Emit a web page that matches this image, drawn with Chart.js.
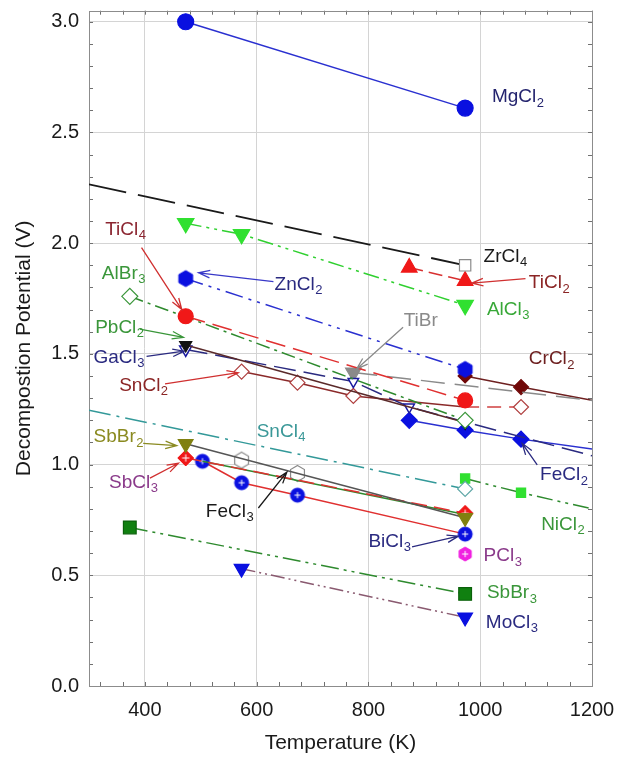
<!DOCTYPE html>
<html><head><meta charset="utf-8">
<script src="https://cdn.jsdelivr.net/npm/chart.js@4/dist/chart.umd.min.js"></script>
<style>html,body{margin:0;padding:0;background:#fff}#wrap{width:626px;height:760px;position:relative}</style>
</head><body><div id="wrap"><canvas id="c"></canvas></div>
<script>
// ---------- data ----------
const xTickValues = [400, 600, 800, 1000, 1200];
const yTickValues = [0, 0.5, 1.0, 1.5, 2.0, 2.5, 3.0];

const tMgCl2 = [473, 973];               const vMgCl2 = [3.00, 2.61];
const tZrCl4 = [300, 973];               const vZrCl4 = [2.266, 1.90];
const tTiCl2 = [873, 973];               const vTiCl2 = [1.89, 1.83];
const tAlCl3 = [473, 573, 973];          const vAlCl3 = [2.09, 2.04, 1.72];
const tZnCl2 = [473, 973];               const vZnCl2 = [1.84, 1.43];
const tTiCl4 = [473, 973];               const vTiCl4 = [1.67, 1.29];
const tAlBr3 = [373, 973];               const vAlBr3 = [1.76, 1.20];
const tPbCl2 = [473, 973];               const vPbCl2 = [1.54, 1.19];
const tGaCl3 = [473, 773, 873, 1200];    const vGaCl3 = [1.52, 1.375, 1.26, 1.04];
const tSnCl2 = [573, 673, 773, 973, 1073]; const vSnCl2 = [1.42, 1.37, 1.31, 1.26, 1.26];
const tTiBr  = [773, 1200];              const vTiBr  = [1.416, 1.29];
const tCrCl2 = [973, 1073, 1200];        const vCrCl2 = [1.40, 1.35, 1.29];
const tFeCl2 = [873, 973, 1073, 1200];   const vFeCl2 = [1.20, 1.155, 1.115, 1.07];
const tSnCl4 = [300, 973];               const vSnCl4 = [1.245, 0.89];
const tNiCl2 = [973, 1073, 1200];        const vNiCl2 = [0.937, 0.873, 0.80];
const tSbBr2 = [473, 973];               const vSbBr2 = [1.094, 0.76];
const tSbCl3 = [473, 973];               const vSbCl3 = [1.03, 0.78];
const tExtra = [503, 973];               const vExtra = [1.015, 0.775];
const tFeCl3 = [573, 673];               const vFeCl3 = [1.02, 0.96];
const tBiCl3 = [503, 573, 673, 973];     const vBiCl3 = [1.015, 0.918, 0.862, 0.686];
const tPCl3  = [973];                    const vPCl3  = [0.596];
const tSbBr3 = [373, 973];               const vSbBr3 = [0.716, 0.416];
const tMoCl3 = [573, 973];               const vMoCl3 = [0.53, 0.31];

// annotation labels (text with _ marking subscript), anchors in data units, colours
const labelTexts  = ['MgCl_2','ZrCl_4','TiCl_2','AlCl_3','CrCl_2','TiBr','TiCl_4','AlBr_3','ZnCl_2','PbCl_2','GaCl_3','SnCl_2','SnCl_4','SbBr_2','SbCl_3','FeCl_3','FeCl_2','NiCl_2','BiCl_3','PCl_3','SbBr_3','MoCl_3'];
const labelT      = [1021, 1006, 1087, 1012, 1087, 863, 329, 323, 632, 311, 308, 354, 600, 308, 336, 509, 1107, 1109, 800, 1006, 1012, 1010];
const labelV      = [2.66, 1.94, 1.82, 1.70, 1.476, 1.65, 2.06, 1.862, 1.813, 1.618, 1.484, 1.357, 1.15, 1.124, 0.918, 0.788, 0.952, 0.728, 0.653, 0.586, 0.42, 0.286];
const labelColors = ['#24246e','#1a1a1a','#8b2525','#38a838','#6e2020','#8a8a8a','#8b2530','#3a963a','#2a2a80','#3a963a','#2a2a80','#8b2525','#3a9898','#8a8a20','#8a3a8a','#1a1a1a','#2a2a80','#3a963a','#2a2a80','#8a3a8a','#3a963a','#2a2a80'];

// arrows: from (T,V) to (T,V)
const arrowFromT = [1081, 394, 630, 391, 403, 436, 862, 1102, 397, 409, 603, 878];
const arrowFromV = [1.84, 1.98, 1.826, 1.612, 1.489, 1.365, 1.62, 0.999, 1.096, 0.939, 0.804, 0.628];
const arrowToT   = [985, 466, 496, 469, 470, 567, 779, 1075, 457, 460, 654, 961];
const arrowToV   = [1.82, 1.70, 1.866, 1.575, 1.512, 1.415, 1.432, 1.096, 1.086, 1.006, 0.966, 0.677];
const arrowColors = ['#d03030','#d03030','#3838c8','#3a963a','#2a2a80','#d03030','#8a8a8a','#2a2a80','#8a8a20','#d03030','#1a1a1a','#2a2a80'];

// ---------- helpers ----------
function makeMarker(shape, r, fill, stroke, lw, plus) {
  const s = Math.ceil(2 * r + 2 * lw + 2);
  const c = document.createElement('canvas'); c.width = s; c.height = s;
  const g = c.getContext('2d'); const cx = s / 2, cy = s / 2;
  g.beginPath();
  if (shape === 'hex') {
    for (let i = 0; i < 6; i++) { const a = -Math.PI / 2 + i * Math.PI / 3; const px = cx + r * Math.cos(a), py = cy + r * Math.sin(a); i ? g.lineTo(px, py) : g.moveTo(px, py); }
  } else if (shape === 'circle') {
    g.arc(cx, cy, r, 0, 2 * Math.PI);
  } else if (shape === 'diamond') {
    g.moveTo(cx, cy - r); g.lineTo(cx + r, cy); g.lineTo(cx, cy + r); g.lineTo(cx - r, cy);
  }
  g.closePath();
  if (fill) { g.fillStyle = fill; g.fill(); }
  if (stroke) { g.strokeStyle = stroke; g.lineWidth = lw; g.stroke(); }
  if (plus) {
    g.strokeStyle = plus; g.lineWidth = 1; g.beginPath();
    g.moveTo(cx - r * 0.45, cy); g.lineTo(cx + r * 0.45, cy);
    g.moveTo(cx, cy - r * 0.45); g.lineTo(cx, cy + r * 0.45); g.stroke();
  }
  return c;
}
function ser(label, ts, vs, o) {
  return Object.assign({ label, data: ts.map((t, i) => ({ x: t, y: vs[i] })), showLine: true, fill: false,
    tension: 0, borderWidth: 1.5, pointBorderWidth: 1.2 }, o);
}
const BLUE = '#0a10e0', RED = '#f01818', LGREEN = '#30e030';

const hexBlue = makeMarker('hex', 8, BLUE, BLUE, 1);
const hexMag = makeMarker('hex', 7, '#f020e0', '#f020e0', 1, '#ffffff');
const hexOpen = makeMarker('hex', 8, '#ffffff', '#8a8a8a', 1.2);
const circPlus = makeMarker('circle', 7, BLUE, BLUE, 1, '#ffffff');
const diaPlus = makeMarker('diamond', 8, RED, RED, 1, '#ffffff');

const datasets = [
  ser('MgCl2', tMgCl2, vMgCl2, { borderColor: '#2a30d0', pointStyle: 'circle', pointRadius: 8, pointBackgroundColor: BLUE, pointBorderColor: BLUE }),
  ser('ZrCl4', tZrCl4, vZrCl4, { borderColor: '#1a1a1a', borderWidth: 1.8, borderDash: [38, 12], pointStyle: 'rect', pointRadius: [0, 8], pointBackgroundColor: '#ffffff', pointBorderColor: '#8a8a8a' }),
  ser('TiCl2', tTiCl2, vTiCl2, { borderColor: '#d83030', borderDash: [14, 6], pointStyle: 'triangle', pointRadius: 9, pointBackgroundColor: RED, pointBorderColor: RED }),
  ser('AlCl3', tAlCl3, vAlCl3, { borderColor: '#30d030', borderDash: [16, 5, 3, 5, 3, 5], pointStyle: 'triangle', rotation: 180, pointRadius: 9.5, pointBackgroundColor: LGREEN, pointBorderColor: LGREEN }),
  ser('ZnCl2', tZnCl2, vZnCl2, { borderColor: '#2a30d0', borderDash: [18, 6, 3, 6, 3, 6], pointStyle: hexBlue, pointRadius: 7 }),
  ser('TiCl4', tTiCl4, vTiCl4, { borderColor: '#e03030', borderDash: [20, 8], pointStyle: 'circle', pointRadius: 7.5, pointBackgroundColor: RED, pointBorderColor: RED }),
  ser('AlBr3', tAlBr3, vAlBr3, { borderColor: '#2e8a2e', borderDash: [14, 5, 3, 5], pointStyle: 'rectRot', pointRadius: 8, pointBackgroundColor: '#ffffff', pointBorderColor: '#3a963a' }),
  ser('PbCl2', tPbCl2, vPbCl2, { borderColor: '#5a2a2a', pointStyle: 'triangle', rotation: 180, pointRadius: 7, pointBackgroundColor: '#111111', pointBorderColor: '#111111' }),
  ser('GaCl3', tGaCl3, vGaCl3, { borderColor: '#2a2a80', borderDash: [22, 8], pointStyle: 'triangle', rotation: 180, pointRadius: [7, 6, 6, 0], pointBackgroundColor: '#ffffff', pointBorderColor: '#1a1aa0', pointBorderWidth: 1.5 }),
  ser('SnCl2', tSnCl2, vSnCl2, { borderColor: '#8b2a2a', pointStyle: 'rectRot', pointRadius: [7.5, 7.5, 7.5, 0, 7.5], pointBackgroundColor: '#ffffff', pointBorderColor: '#b04040',
    segment: { borderDash: ctx => ctx.p0.parsed.x >= 970 ? [14, 8] : undefined, borderColor: ctx => ctx.p0.parsed.x >= 970 ? '#d04040' : undefined } }),
  ser('TiBr', tTiBr, vTiBr, { borderColor: '#8a8a8a', borderDash: [24, 10], pointStyle: 'triangle', rotation: 180, pointRadius: [9, 0], pointBackgroundColor: '#8a8a8a', pointBorderColor: '#8a8a8a' }),
  ser('CrCl2', tCrCl2, vCrCl2, { borderColor: '#6e2020', pointStyle: 'rectRot', pointRadius: [7, 7.5, 0], pointBackgroundColor: '#700808', pointBorderColor: '#700808' }),
  ser('FeCl2', tFeCl2, vFeCl2, { borderColor: '#2a30d0', pointStyle: 'rectRot', pointRadius: [8, 8, 8, 0], pointBackgroundColor: BLUE, pointBorderColor: BLUE }),
  ser('SnCl4', tSnCl4, vSnCl4, { borderColor: '#339999', borderDash: [22, 6, 3, 6], pointStyle: 'rectRot', pointRadius: [0, 7.5], pointBackgroundColor: '#ffffff', pointBorderColor: '#60a8a8' }),
  ser('NiCl2', tNiCl2, vNiCl2, { borderColor: '#2e8a2e', borderDash: [16, 5, 3, 5, 3, 5], pointStyle: 'rect', pointRadius: [6.5, 6.5, 0], pointBackgroundColor: LGREEN, pointBorderColor: LGREEN }),
  ser('SbBr2', tSbBr2, vSbBr2, { borderColor: '#555555', pointStyle: 'triangle', rotation: 180, pointRadius: 8.5, pointBackgroundColor: '#808010', pointBorderColor: '#808010' }),
  ser('SbCl3', tSbCl3, vSbCl3, { borderColor: '#e03030', borderDash: [16, 7], pointStyle: diaPlus, pointRadius: 7 }),
  ser('', tExtra, vExtra, { borderColor: '#2e8a2e', pointRadius: 0 }),
  ser('FeCl3', tFeCl3, vFeCl3, { showLine: false, pointStyle: hexOpen, pointRadius: 8 }),
  ser('BiCl3', tBiCl3, vBiCl3, { borderColor: '#e03030', pointStyle: circPlus, pointRadius: 7 }),
  ser('PCl3', tPCl3, vPCl3, { showLine: false, pointStyle: hexMag, pointRadius: 7 }),
  ser('SbBr3', tSbBr3, vSbBr3, { borderColor: '#2e8a2e', borderDash: [18, 5, 3, 5, 3, 5], pointStyle: 'rect', pointRadius: 9, pointBackgroundColor: '#108010', pointBorderColor: '#0a600a' }),
  ser('MoCl3', tMoCl3, vMoCl3, { borderColor: '#8a5a70', borderDash: [14, 4, 2, 4, 2, 4], pointStyle: 'triangle', rotation: 180, pointRadius: 8.5, pointBackgroundColor: BLUE, pointBorderColor: BLUE })
];

const FONT = '"Liberation Sans", Arial, Helvetica, sans-serif';

const framePlugin = {
  id: 'frame',
  beforeDatasetsDraw(chart) {
    const { ctx, chartArea: a, scales: { x, y } } = chart;
    ctx.save();
    ctx.strokeStyle = '#707070'; ctx.lineWidth = 1;
    ctx.beginPath();
    for (let t = 320; t <= 1200; t += 40) {
      const px = Math.round(x.getPixelForValue(t)) + 0.5;
      ctx.moveTo(px, a.bottom); ctx.lineTo(px, a.bottom - 4);
      ctx.moveTo(px, a.top); ctx.lineTo(px, a.top + 4);
    }
    for (let k = 1; k <= 30; k++) {
      const py = Math.round(y.getPixelForValue(k / 10)) + 0.5;
      ctx.moveTo(a.left, py); ctx.lineTo(a.left + 4, py);
      ctx.moveTo(a.right, py); ctx.lineTo(a.right - 4, py);
    }
    ctx.stroke();
    ctx.strokeStyle = '#8c8c8c';
    ctx.strokeRect(Math.round(a.left) + 0.5, Math.round(a.top) + 0.5, Math.round(a.right - a.left), Math.round(a.bottom - a.top));
    ctx.restore();
  },
  afterDatasetsDraw(chart) {
    const { ctx, scales: { x, y } } = chart;
    ctx.save();
    // arrows
    for (let i = 0; i < arrowFromT.length; i++) {
      const x0 = x.getPixelForValue(arrowFromT[i]), y0 = y.getPixelForValue(arrowFromV[i]);
      const x1 = x.getPixelForValue(arrowToT[i]), y1 = y.getPixelForValue(arrowToV[i]);
      const ang = Math.atan2(y1 - y0, x1 - x0), hl = 12, ha = 0.32;
      ctx.strokeStyle = arrowColors[i]; ctx.lineWidth = 1.3;
      ctx.beginPath(); ctx.moveTo(x0, y0); ctx.lineTo(x1, y1);
      ctx.moveTo(x1 - hl * Math.cos(ang - ha), y1 - hl * Math.sin(ang - ha)); ctx.lineTo(x1, y1);
      ctx.lineTo(x1 - hl * Math.cos(ang + ha), y1 - hl * Math.sin(ang + ha));
      ctx.stroke();
    }
    // labels
    ctx.textAlign = 'left'; ctx.textBaseline = 'middle';
    for (let i = 0; i < labelTexts.length; i++) {
      const parts = labelTexts[i].split('_');
      const px = x.getPixelForValue(labelT[i]), py = y.getPixelForValue(labelV[i]);
      ctx.fillStyle = labelColors[i];
      ctx.font = '19px ' + FONT;
      ctx.fillText(parts[0], px, py);
      if (parts[1]) {
        const w = ctx.measureText(parts[0]).width;
        ctx.font = '13px ' + FONT;
        ctx.fillText(parts[1], px + w + 0.5, py + 6);
      }
    }
    ctx.restore();
  }
};

new Chart(document.getElementById('c'), {
  type: 'scatter',
  data: { datasets },
  options: {
    responsive: true, maintainAspectRatio: false, animation: false,
    layout: { padding: { top: 6, right: 34, left: 0, bottom: 0 } },
    plugins: { legend: { display: false }, tooltip: { enabled: false } },
    scales: {
      x: {
        type: 'linear', min: 300, max: 1200,
        afterFit(s) { s.height = 74; s.paddingLeft = 0; s.paddingRight = 0; },
        afterBuildTicks(s) { s.ticks = xTickValues.map(v => ({ value: v })); },
        grid: { color: '#d4d4d4', drawTicks: false },
        border: { display: false },
        ticks: { font: { size: 20, family: FONT }, color: '#1a1a1a', padding: 12, maxRotation: 0, callback: v => String(v) },
        title: { display: true, text: 'Temperature (K)', font: { size: 21, family: FONT }, color: '#1a1a1a', padding: { top: 0, bottom: 4 } }
      },
      y: {
        type: 'linear', min: 0, max: 3.05,
        afterFit(s) { s.width = 89; s.paddingTop = 0; s.paddingBottom = 0; },
        afterBuildTicks(s) { s.ticks = yTickValues.map(v => ({ value: v })); },
        grid: { color: '#d4d4d4', drawTicks: false },
        border: { display: false },
        ticks: { font: { size: 20, family: FONT }, color: '#1a1a1a', padding: 10, callback: v => Number(v).toFixed(1) },
        title: { display: true, text: 'Decompostion Potential (V)', font: { size: 21, family: FONT }, color: '#1a1a1a', padding: { top: 12, bottom: 0 } }
      }
    }
  },
  plugins: [framePlugin]
});
</script>
</body></html>
